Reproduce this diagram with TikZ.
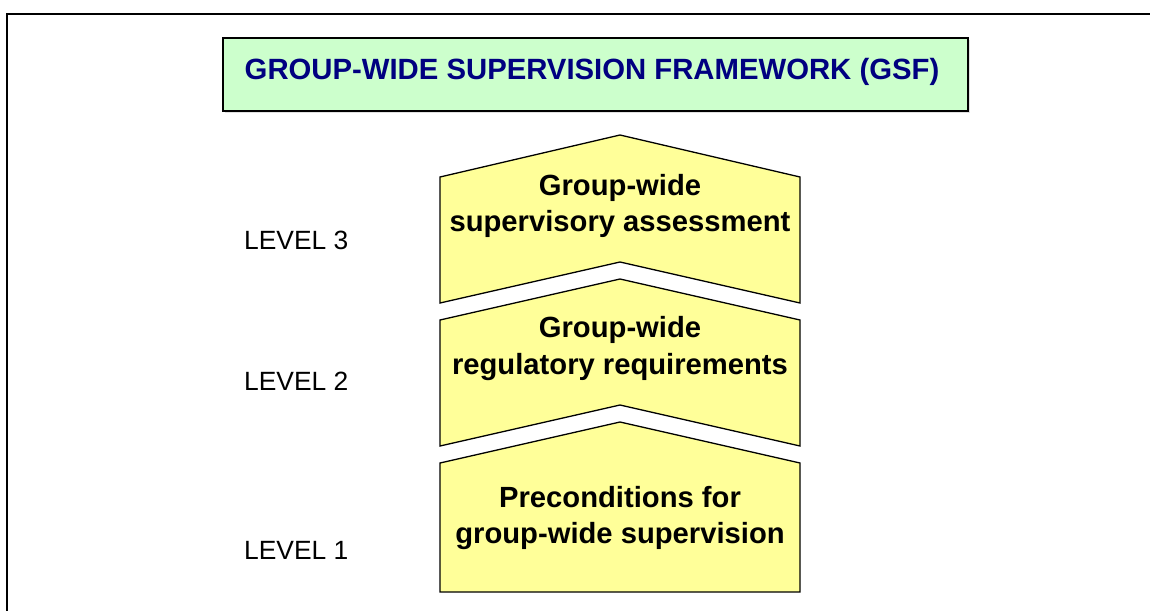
\documentclass[tikz,border=0pt]{standalone}
\usepackage{fontspec}
\setmainfont{Liberation Sans}
\definecolor{titlegreen}{HTML}{CCFFCC}
\definecolor{navy}{HTML}{000080}
\definecolor{chevyellow}{HTML}{FFFF99}
\begin{document}
\begin{tikzpicture}[x=1pt,y=-1pt,
  frame/.style={draw=black,line width=2pt},
  titlebox/.style={fill=titlegreen,draw=black,line width=1.6pt},
  chev/.style={fill=chevyellow,draw=black,line width=1.3pt,line join=miter},
  chevtext/.style={font=\fontsize{29.2}{34}\selectfont\bfseries,text=black,align=center,anchor=base,inner sep=0pt},
  leveltext/.style={font=\fontsize{26.4}{30}\selectfont,text=black,anchor=base west,inner sep=0pt}]
\useasboundingbox (0,0) rectangle (1150,610);
\clip (0,0) rectangle (1150,610);
\fill[white] (0,0) rectangle (1150,610);
\draw[frame] (7,14) rectangle (1170,630);
% title
\fill[black!12] (225,40) rectangle (970,113);
\draw[titlebox] (223,38) rectangle (968,111);
\node[font=\fontsize{29.3}{34}\selectfont\bfseries,text=navy,anchor=base,inner sep=0pt] (title) at (592,79) {GROUP-WIDE SUPERVISION FRAMEWORK (GSF)};
% chevrons
\draw[chev] (440,177) -- (620,135) -- (800,177) -- (800,303) -- (620,262) -- (440,303) -- cycle;
\draw[chev] (440,320) -- (620,279) -- (800,320) -- (800,446) -- (620,405) -- (440,446) -- cycle;
\draw[chev] (440,463) -- (620,422) -- (800,463) -- (800,592) -- (440,592) -- cycle;
\node[chevtext] (c3a) at (620,195) {Group-wide};
\node[chevtext] (c3b) at (620,231) {supervisory assessment};
\node[chevtext] (c2a) at (620,337) {Group-wide};
\node[chevtext] (c2b) at (620,374) {regulatory requirements};
\node[chevtext] (c1a) at (620,507) {Preconditions for};
\node[chevtext] (c1b) at (620,543) {group-wide supervision};
% levels
\node[leveltext] (l3) at (244,249) {LEVEL 3};
\node[leveltext] (l2) at (244,390) {LEVEL 2};
\node[leveltext] (l1) at (244,559) {LEVEL 1};
\end{tikzpicture}
\end{document}
